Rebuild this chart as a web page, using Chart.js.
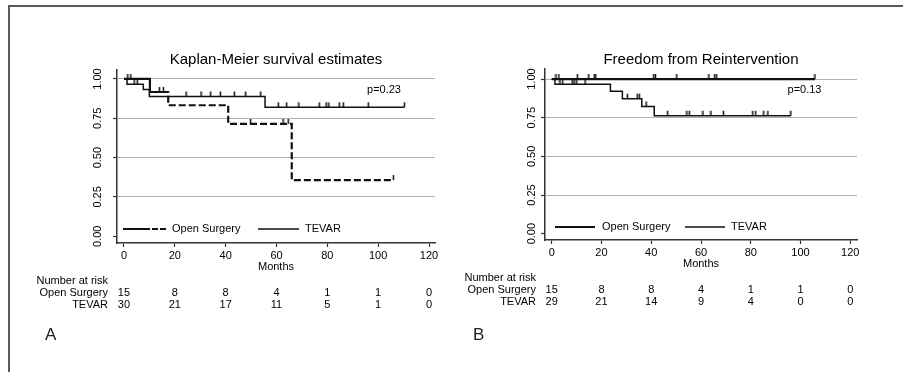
<!DOCTYPE html>
<html>
<head>
<meta charset="utf-8">
<script src="https://cdn.jsdelivr.net/npm/chart.js@4"></script>
<style>
body { margin: 0; background: #fff; font-family: 'Liberation Sans', Arial, sans-serif; }
#wrap { position: relative; width: 903px; height: 372px; overflow: hidden; }
#frame { position: absolute; left: 8px; top: 5px; width: 1000px; height: 400px; border-top: 2px solid #5a5a5a; border-left: 2px solid #5a5a5a; }
.panel { position: absolute; top: 0; height: 372px; }
.tag { position: absolute; font-size: 17px; line-height: 17px; color: #222; }
</style>
</head>
<body>
<div id="wrap">
    <div id="frame"></div>
    <div class="panel" style="left:0;width:450px"><canvas id="chartA"></canvas></div>
    <div class="panel" style="left:450px;width:453px"><canvas id="chartB"></canvas></div>
    <div class="tag" style="left:45px;top:326px">A</div>
    <div class="tag" style="left:473px;top:326px">B</div>
</div>
<script>
const monthTicks = [0, 20, 40, 60, 80, 100, 120];
const survTicks = [0, 0.25, 0.5, 0.75, 1];
const groups = ['Open Surgery', 'TEVAR'];

// Panel A: Kaplan-Meier survival estimates
const aOpenTime = [0, 10.2, 17.4, 41, 66, 106];
const aOpenSurv = [1, 0.917, 0.833, 0.714, 0.357, 0.357];
const aOpenCensTime = [1.5, 2.7, 13.9, 15.5, 49.8, 62.6, 64.6, 106];
const aOpenCensSurv = [1, 1, 0.917, 0.917, 0.714, 0.714, 0.714, 0.357];
const aTevarTime = [0, 1.2, 7.6, 10, 55.5, 110.3];
const aTevarSurv = [1, 0.967, 0.933, 0.889, 0.82, 0.82];
const aTevarCensTime = [4, 5.2, 24.4, 30.3, 34.1, 37.9, 43.4, 47.9, 53.8, 60.7, 64, 68.8, 76.8, 79.5, 80.6, 84.7, 86.3, 96.1, 110.3];
const aTevarCensSurv = [0.967, 0.967, 0.889, 0.889, 0.889, 0.889, 0.889, 0.889, 0.889, 0.82, 0.82, 0.82, 0.82, 0.82, 0.82, 0.82, 0.82, 0.82, 0.82];
const aRiskOpen = [15, 8, 8, 4, 1, 1, 0];
const aRiskTevar = [30, 21, 17, 11, 5, 1, 0];

// Panel B: Freedom from Reintervention
const bOpenTime = [0, 105.8];
const bOpenSurv = [1, 1];
const bOpenCensTime = [1.7, 2.9, 10.3, 14.9, 17.1, 17.7, 41, 41.7, 50.3, 63.2, 65.5, 66.3, 105.8];
const bOpenCensSurv = [1, 1, 1, 1, 1, 1, 1, 1, 1, 1, 1, 1, 1];
const bTevarTime = [0, 1.3, 23.6, 28.4, 36.2, 41.2, 96.1];
const bTevarSurv = [1, 0.966, 0.921, 0.873, 0.823, 0.763, 0.763];
const bTevarCensTime = [3.3, 4.4, 8.2, 9, 10.1, 13.4, 30.4, 34.4, 35.2, 37.9, 46.6, 54.3, 55.3, 60.8, 64, 69, 80.8, 82, 85.2, 86.9, 96.1];
const bTevarCensSurv = [0.966, 0.966, 0.966, 0.966, 0.966, 0.966, 0.873, 0.873, 0.873, 0.823, 0.763, 0.763, 0.763, 0.763, 0.763, 0.763, 0.763, 0.763, 0.763, 0.763, 0.763];
const bRiskOpen = [15, 8, 8, 4, 1, 1, 0];
const bRiskTevar = [29, 21, 14, 9, 4, 0, 0];

const ink = '#000';
const family = "'Liberation Sans', Arial, sans-serif";
Chart.defaults.font.family = family;
Chart.defaults.color = ink;

const pts = (t, s) => t.map((v, i) => ({ x: v, y: s[i] }));

// small upward tick used for censored observations
const censorMark = (() => {
    const c = document.createElement('canvas');
    c.width = 3; c.height = 12;
    const g = c.getContext('2d');
    g.fillStyle = '#111';
    g.fillRect(0.75, 1, 1.5, 5);
    return c;
})();

// long first dash then regular dashes, like the Stata pattern
const openDashA = [58, 3].concat(...Array(40).fill([7, 3]));

const kmExtras = {
    id: 'kmExtras',
    afterDraw(chart, args, o) {
        const { ctx, chartArea: ca, scales: { x, y } } = chart;
        ctx.save();
        ctx.fillStyle = ink;
        ctx.font = '11px ' + family;
        ctx.textBaseline = 'middle';

        // p value
        ctx.textAlign = 'center';
        ctx.fillText(o.pText, x.getPixelForValue(o.pAt[0]), y.getPixelForValue(o.pAt[1]));

        // legend inside the plot
        const ly = ca.bottom - o.legendDy;
        o.legend.forEach((it, i) => {
            const ds = chart.data.datasets[i];
            ctx.strokeStyle = ds.borderColor;
            ctx.lineWidth = ds.borderWidth;
            ctx.setLineDash(it.dash || []);
            ctx.beginPath();
            ctx.moveTo(ca.left + it.x0, ly);
            ctx.lineTo(ca.left + it.x1, ly);
            ctx.stroke();
            ctx.textAlign = 'left';
            ctx.fillText(ds.label, ca.left + it.tx, ly);
        });
        ctx.setLineDash([]);

        // number at risk table
        ctx.textAlign = 'right';
        ctx.fillText('Number at risk', ca.left - 9, ca.bottom + 38);
        groups.forEach((g, r) => ctx.fillText(g, ca.left - 9, ca.bottom + 50 + 12 * r));
        ctx.textAlign = 'center';
        o.risk.forEach((row, r) => {
            row.forEach((n, i) => {
                ctx.fillText(String(n), x.getPixelForValue(monthTicks[i]), ca.bottom + 50 + 12 * r);
            });
        });
        ctx.restore();
    }
};

function kmChart(id, o) {
    return new Chart(document.getElementById(id), {
        type: 'line',
        data: {
            datasets: [
                { label: groups[0], data: pts(o.openT, o.openS), stepped: true, borderColor: '#111', borderWidth: 2.2, borderDash: o.openDash, pointRadius: 0, borderCapStyle: 'butt' },
                { label: groups[1], data: pts(o.tevarT, o.tevarS), stepped: true, borderColor: '#111', borderWidth: 1.5, pointRadius: 0 },
                { label: 'cens1', data: pts(o.openCT, o.openCS), showLine: false, pointStyle: censorMark, pointRadius: 3 },
                { label: 'cens2', data: pts(o.tevarCT, o.tevarCS), showLine: false, pointStyle: censorMark, pointRadius: 3 }
            ]
        },
        options: {
            responsive: true,
            maintainAspectRatio: false,
            animation: false,
            events: [],
            layout: { padding: o.pad },
            plugins: {
                legend: { display: false },
                tooltip: { enabled: false },
                title: {
                    display: true, text: o.title, fullSize: false, color: ink,
                    font: { size: 15, weight: 'normal' },
                    padding: { top: 51, bottom: o.titleBottom }
                },
                kmExtras: { pText: o.pText, pAt: o.pAt, legend: o.legend, legendDy: o.legendDy, risk: o.risk }
            },
            scales: {
                x: {
                    type: 'linear', min: o.xMin, max: o.xMax,
                    afterBuildTicks: s => { s.ticks = monthTicks.map(v => ({ value: v })); },
                    afterFit: s => { s.height = 31; },
                    border: { display: true, color: '#333', width: 1.5 },
                    grid: { drawOnChartArea: false, tickLength: 4, tickColor: '#333', tickWidth: 1.2 },
                    ticks: { color: ink, font: { size: 11 }, padding: 2, autoSkip: false, maxRotation: 0 },
                    title: { display: true, text: 'Months', color: ink, font: { size: 11 }, padding: 0 }
                },
                y: {
                    min: o.yMin, max: o.yMax,
                    afterBuildTicks: s => { s.ticks = survTicks.map(v => ({ value: v })); },
                    afterFit: s => { s.width = 40; },
                    border: { display: true, color: '#333', width: 1.5 },
                    grid: {
                        color: c => (c.tick && c.tick.value === 0) ? 'rgba(0,0,0,0)' : '#b0b0b0',
                        lineWidth: 1, tickLength: 4, tickColor: '#333', tickWidth: 1.2
                    },
                    ticks: {
                        color: ink, font: { size: 11 }, autoSkip: false,
                        minRotation: 90, maxRotation: 90, crossAlign: 'center', padding: o.yPad,
                        callback: v => Number(v).toFixed(2)
                    }
                }
            }
        },
        plugins: [kmExtras]
    });
}

kmChart('chartA', {
    title: 'Kaplan-Meier survival estimates',
    openT: aOpenTime, openS: aOpenSurv, openCT: aOpenCensTime, openCS: aOpenCensSurv,
    tevarT: aTevarTime, tevarS: aTevarSurv, tevarCT: aTevarCensTime, tevarCS: aTevarCensSurv,
    openDash: openDashA,
    risk: [aRiskOpen, aRiskTevar],
    pText: 'p=0.23', pAt: [102.3, 0.93],
    legend: [{ x0: 6, x1: 49, tx: 55, dash: [27, 2, 6, 2] }, { x0: 141, x1: 182, tx: 188 }],
    legendDy: 14,
    pad: { left: 77, right: 15, top: 0, bottom: 98 },
    titleBottom: 1,
    xMin: -2.75, xMax: 122.36, yMin: -0.043, yMax: 1.057, yPad: 4
});

kmChart('chartB', {
    title: 'Freedom from Reintervention',
    openT: bOpenTime, openS: bOpenSurv, openCT: bOpenCensTime, openCS: bOpenCensSurv,
    tevarT: bTevarTime, tevarS: bTevarSurv, tevarCT: bTevarCensTime, tevarCS: bTevarCensSurv,
    openDash: [],
    risk: [bRiskOpen, bRiskTevar],
    pText: 'p=0.13', pAt: [101.6, 0.929],
    legend: [{ x0: 10, x1: 50, tx: 57 }, { x0: 140, x1: 180, tx: 186 }],
    legendDy: 13,
    pad: { left: 55, right: 46, top: 0, bottom: 101 },
    titleBottom: 0,
    xMin: -2.7, xMax: 122.7, yMin: -0.041, yMax: 1.065, yPad: -2
});
</script>
</body>
</html>
